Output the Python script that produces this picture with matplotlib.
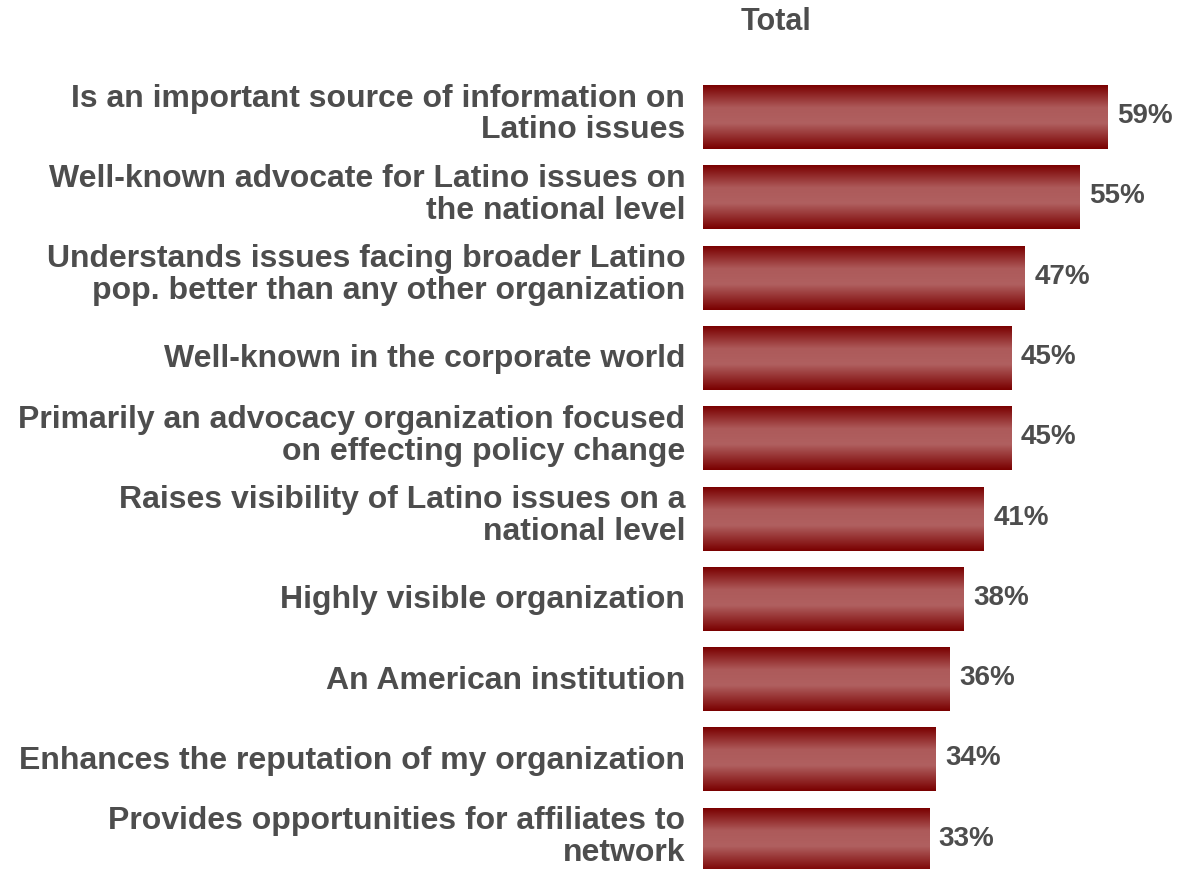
import matplotlib
matplotlib.use('Agg')
import matplotlib.pyplot as plt
from matplotlib.colors import LinearSegmentedColormap
import numpy as np

# Kategorien und Werte (%)
labels = [
    'Is an important source of information on\nLatino issues',
    'Well-known advocate for Latino issues on\nthe national level',
    'Understands issues facing broader Latino\npop. better than any other organization',
    'Well-known in the corporate world',
    'Primarily an advocacy organization focused\non effecting policy change',
    'Raises visibility of Latino issues on a\nnational level',
    'Highly visible organization',
    'An American institution',
    'Enhances the reputation of my organization',
    'Provides opportunities for affiliates to\nnetwork',
]
values = [59, 55, 47, 45, 45, 41, 38, 36, 34, 33]
title = 'Total'

TXT = '#4d4d4d'
BAR_H = 0.785
plt.rcParams['font.family'] = ['Liberation Sans', 'DejaVu Sans']

# vertikaler Verlauf: dunkel an den Kanten, hell in der Mitte
cmap = LinearSegmentedColormap.from_list(
    'bar', [(0.0, '#7a0000'), (0.35, '#ad5a5a'), (0.6, '#b06060'), (1.0, '#7a0000')])
grad = np.linspace(0, 1, 128).reshape(-1, 1)

fig = plt.figure(figsize=(11.88, 8.70), dpi=100)
ax = fig.add_axes([703 / 1188, 0, 485 / 1188, 1])
ax.set_xlim(0, 485 / 6.85)
ax.set_ylim(9.359, -1.476)
ax.axis('off')

for i, (lab, v) in enumerate(zip(labels, values)):
    y0, y1 = i - BAR_H / 2, i + BAR_H / 2
    ax.imshow(grad, cmap=cmap, aspect='auto', extent=(0, v, y1, y0),
              interpolation='bilinear', zorder=2)
    ax.text(v + 1.4, i - 0.03, f'{v}%', ha='left', va='center', fontsize=20,
            fontweight='bold', color=TXT)
    dy = -0.05 if '\n' in lab else 0.0
    ax.text(-2.6, i + dy, lab, ha='right', va='center', fontsize=23,
            fontweight='bold', color=TXT, linespacing=1.08, clip_on=False)

ax.text(10.6, -1.2, title, ha='center', va='center', fontsize=22,
        fontweight='bold', color=TXT)

fig.savefig('out.png', dpi=100, facecolor='white')
